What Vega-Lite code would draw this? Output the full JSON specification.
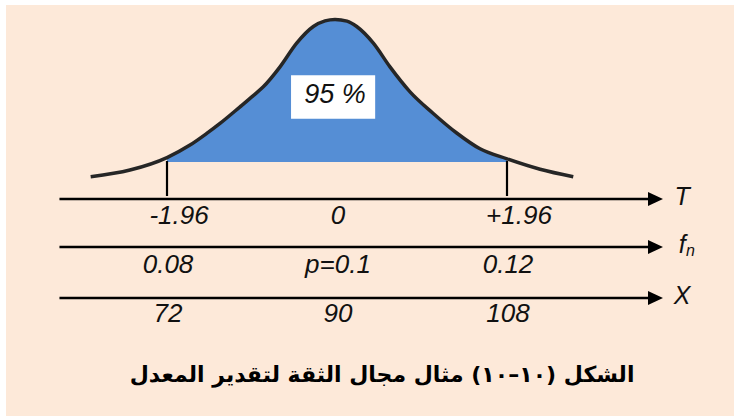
{
  "$schema": "https://vega.github.io/schema/vega-lite/v6.json",
  "width": 734,
  "height": 416,
  "autosize": {"type": "fit", "contains": "padding"},
  "padding": {"left": 6, "top": 5, "right": 0, "bottom": 0},
  "background": "#ffffff",
  "config": {"view": {"stroke": null, "fill": "#FDE9D9"}, "text": {"font": "Liberation Sans"}},
  "datasets": {
    "curve": [
      {"t": -2.84, "v": 0.020}, {"t": -2.387, "v": 0.036}, {"t": -1.96, "v": 0.066},
      {"t": -1.695, "v": 0.096}, {"t": -1.502, "v": 0.124}, {"t": -1.349, "v": 0.148},
      {"t": -1.118, "v": 0.188}, {"t": -0.965, "v": 0.215}, {"t": -0.85, "v": 0.236},
      {"t": -0.657, "v": 0.284}, {"t": -0.465, "v": 0.341}, {"t": -0.273, "v": 0.381},
      {"t": -0.138, "v": 0.3945}, {"t": -0.023, "v": 0.398}, {"t": 0.115, "v": 0.394},
      {"t": 0.227, "v": 0.381}, {"t": 0.419, "v": 0.341}, {"t": 0.611, "v": 0.284},
      {"t": 0.842, "v": 0.224}, {"t": 1.11, "v": 0.172}, {"t": 1.38, "v": 0.125},
      {"t": 1.649, "v": 0.087}, {"t": 1.96, "v": 0.063}, {"t": 2.341, "v": 0.038},
      {"t": 2.724, "v": 0.020}
    ],
    "cuts": [{"t": -1.96}, {"t": 1.96}],
    "box": [{"label": "95 %"}],
    "scales": [
      {"name": "T", "level": -0.0337, "sub": ""},
      {"name": "f", "level": -0.149, "sub": "n"},
      {"name": "X", "level": -0.2716, "sub": ""}
    ],
    "ticks": [
      {"row": "T", "t": -1.96, "label": "-1.96", "level": -0.0757},
      {"row": "T", "t": 0, "label": "0", "level": -0.0757},
      {"row": "T", "t": 1.96, "label": "+1.96", "level": -0.0757},
      {"row": "f", "t": -1.96, "label": "0.08", "level": -0.1923},
      {"row": "f", "t": 0, "label": "p=0.1", "level": -0.1923},
      {"row": "f", "t": 1.96, "label": "0.12", "level": -0.1923},
      {"row": "X", "t": -1.96, "label": "72", "level": -0.310},
      {"row": "X", "t": 0, "label": "90", "level": -0.310},
      {"row": "X", "t": 1.96, "label": "108", "level": -0.310}
    ],
    "caption": [{"text": "الشكل (١٠–١٠) مثال مجال الثقة لتقدير المعدل"}]
  },
  "layer": [
    {
      "data": {"name": "curve"},
      "transform": [{"filter": "datum.t >= -1.96 && datum.t <= 1.96"}],
      "mark": {"type": "area", "color": "#558ED5", "interpolate": "monotone"},
      "encoding": {
        "x": {"field": "t", "type": "quantitative", "scale": {"domain": [-3.8163, 4.5772], "nice": false, "zero": false}, "axis": null},
        "y": {"field": "v", "type": "quantitative", "scale": {"domain": [-0.55529, 0.43269], "nice": false, "zero": false}, "axis": null},
        "y2": {"datum": 0.0553}
      }
    },
    {
      "data": {"name": "curve"},
      "mark": {"type": "line", "color": "#262626", "strokeWidth": 3.5, "interpolate": "monotone"},
      "encoding": {
        "x": {"field": "t", "type": "quantitative", "scale": {"domain": [-3.8163, 4.5772], "nice": false, "zero": false}, "axis": null},
        "y": {"field": "v", "type": "quantitative", "scale": {"domain": [-0.55529, 0.43269], "nice": false, "zero": false}, "axis": null}
      }
    },
    {
      "data": {"name": "cuts"},
      "mark": {"type": "rule", "color": "#000000", "strokeWidth": 2.2},
      "encoding": {
        "x": {"field": "t", "type": "quantitative", "scale": {"domain": [-3.8163, 4.5772], "nice": false, "zero": false}, "axis": null},
        "y": {"datum": 0.0577, "type": "quantitative", "scale": {"domain": [-0.55529, 0.43269], "nice": false, "zero": false}, "axis": null},
        "y2": {"datum": -0.0264}
      }
    },
    {
      "data": {"name": "box"},
      "mark": {"type": "rect", "color": "#ffffff"},
      "encoding": {
        "x": {"datum": -0.53, "type": "quantitative", "scale": {"domain": [-3.8163, 4.5772], "nice": false, "zero": false}, "axis": null},
        "x2": {"datum": 0.44},
        "y": {"datum": 0.264, "type": "quantitative", "scale": {"domain": [-0.55529, 0.43269], "nice": false, "zero": false}, "axis": null},
        "y2": {"datum": 0.159}
      }
    },
    {
      "data": {"name": "box"},
      "mark": {"type": "text", "fontSize": 27, "fontStyle": "italic", "color": "#111111", "align": "center", "baseline": "alphabetic"},
      "encoding": {
        "x": {"datum": -0.023, "type": "quantitative", "scale": {"domain": [-3.8163, 4.5772], "nice": false, "zero": false}, "axis": null},
        "y": {"datum": 0.197, "type": "quantitative", "scale": {"domain": [-0.55529, 0.43269], "nice": false, "zero": false}, "axis": null},
        "text": {"field": "label"}
      }
    },
    {
      "data": {"name": "scales"},
      "mark": {"type": "rule", "color": "#000000", "strokeWidth": 2.6},
      "encoding": {
        "x": {"datum": -3.2, "type": "quantitative", "scale": {"domain": [-3.8163, 4.5772], "nice": false, "zero": false}, "axis": null},
        "x2": {"datum": 3.61},
        "y": {"field": "level", "type": "quantitative", "scale": {"domain": [-0.55529, 0.43269], "nice": false, "zero": false}, "axis": null}
      }
    },
    {
      "data": {"name": "scales"},
      "mark": {"type": "point", "shape": "M1,0L-1,-0.93L-1,0.93Z", "filled": true, "size": 225, "color": "#000000", "opacity": 1, "strokeWidth": 0},
      "encoding": {
        "x": {"datum": 3.672, "type": "quantitative", "scale": {"domain": [-3.8163, 4.5772], "nice": false, "zero": false}, "axis": null},
        "y": {"field": "level", "type": "quantitative", "scale": {"domain": [-0.55529, 0.43269], "nice": false, "zero": false}, "axis": null}
      }
    },
    {
      "data": {"name": "scales"},
      "mark": {"type": "text", "fontSize": 25, "fontStyle": "italic", "color": "#111111", "align": "center", "baseline": "middle", "dy": -2},
      "encoding": {
        "x": {"datum": 3.98, "type": "quantitative", "scale": {"domain": [-3.8163, 4.5772], "nice": false, "zero": false}, "axis": null},
        "y": {"field": "level", "type": "quantitative", "scale": {"domain": [-0.55529, 0.43269], "nice": false, "zero": false}, "axis": null},
        "text": {"field": "name"}
      }
    },
    {
      "data": {"name": "scales"},
      "transform": [{"filter": "datum.sub != ''"}],
      "mark": {"type": "text", "fontSize": 16, "fontStyle": "italic", "color": "#111111", "align": "center", "baseline": "middle", "dy": 4},
      "encoding": {
        "x": {"datum": 4.075, "type": "quantitative", "scale": {"domain": [-3.8163, 4.5772], "nice": false, "zero": false}, "axis": null},
        "y": {"field": "level", "type": "quantitative", "scale": {"domain": [-0.55529, 0.43269], "nice": false, "zero": false}, "axis": null},
        "text": {"field": "sub"}
      }
    },
    {
      "data": {"name": "ticks"},
      "transform": [{"filter": "datum.row == 'T' && datum.t != 0"}],
      "mark": {"type": "text", "fontSize": 26, "fontStyle": "italic", "color": "#111111", "align": "center", "baseline": "middle", "dx": 12},
      "encoding": {
        "x": {"field": "t", "type": "quantitative", "scale": {"domain": [-3.8163, 4.5772], "nice": false, "zero": false}, "axis": null},
        "y": {"field": "level", "type": "quantitative", "scale": {"domain": [-0.55529, 0.43269], "nice": false, "zero": false}, "axis": null},
        "text": {"field": "label"}
      }
    },
    {
      "data": {"name": "ticks"},
      "transform": [{"filter": "datum.row != 'T' || datum.t == 0"}],
      "mark": {"type": "text", "fontSize": 26, "fontStyle": "italic", "color": "#111111", "align": "center", "baseline": "middle", "dx": 1},
      "encoding": {
        "x": {"field": "t", "type": "quantitative", "scale": {"domain": [-3.8163, 4.5772], "nice": false, "zero": false}, "axis": null},
        "y": {"field": "level", "type": "quantitative", "scale": {"domain": [-0.55529, 0.43269], "nice": false, "zero": false}, "axis": null},
        "text": {"field": "label"}
      }
    },
    {
      "data": {"name": "caption"},
      "mark": {"type": "text", "fontSize": 22, "fontWeight": "bold", "font": "DejaVu Sans", "color": "#000000", "align": "center", "baseline": "middle"},
      "encoding": {
        "x": {"datum": 0.52, "type": "quantitative", "scale": {"domain": [-3.8163, 4.5772], "nice": false, "zero": false}, "axis": null},
        "y": {"datum": -0.4567, "type": "quantitative", "scale": {"domain": [-0.55529, 0.43269], "nice": false, "zero": false}, "axis": null},
        "text": {"field": "text"}
      }
    }
  ]
}
